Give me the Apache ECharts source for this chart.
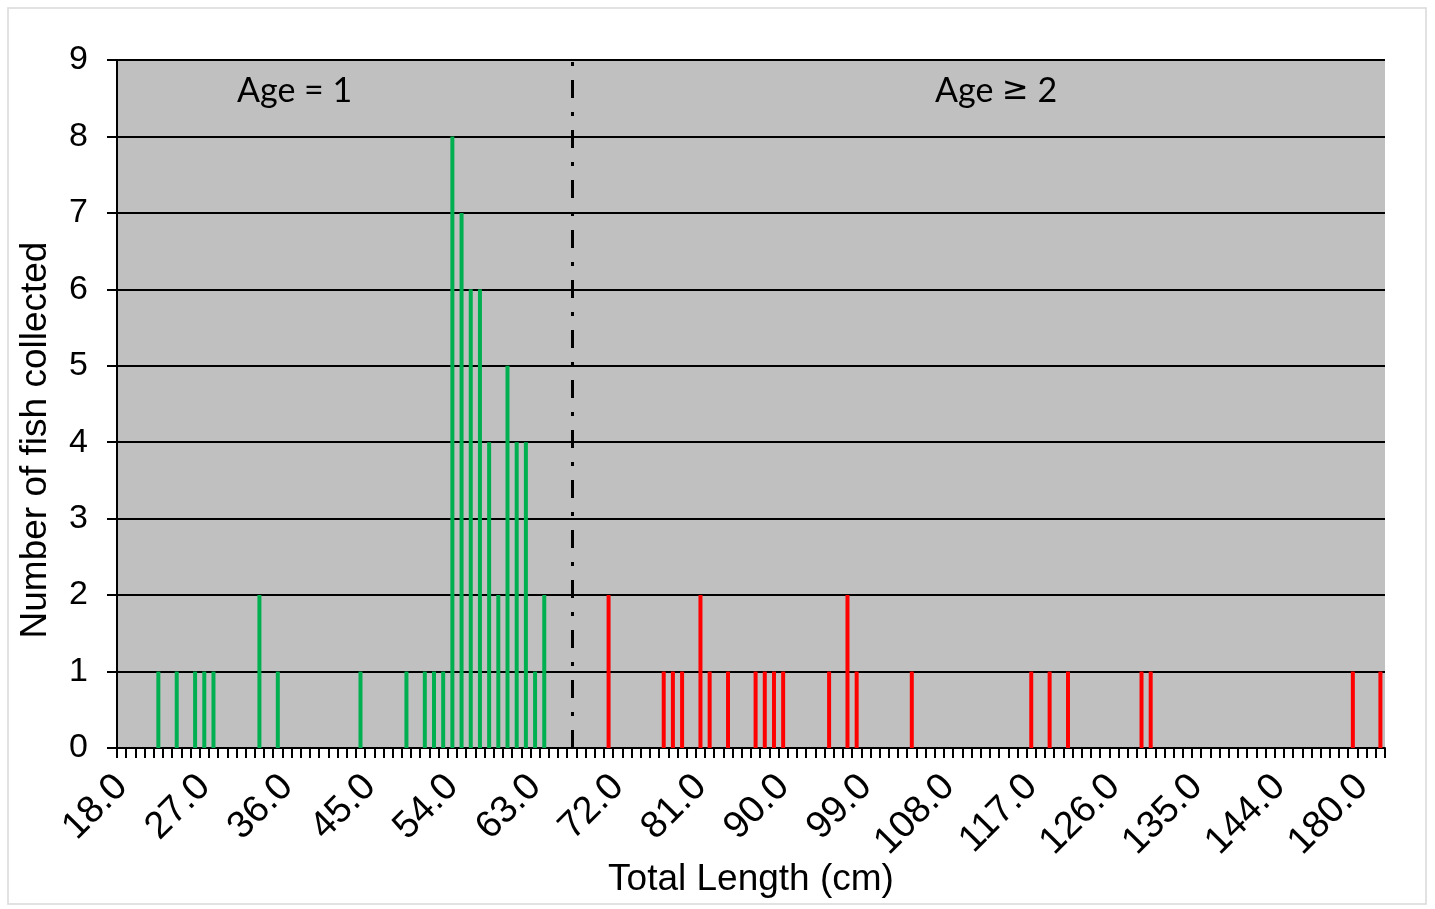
<!DOCTYPE html>
<html>
<head>
<meta charset="utf-8">
<script src="https://cdn.jsdelivr.net/npm/echarts@6/dist/echarts.min.js"></script>
<style>
  html, body { margin: 0; padding: 0; background: #ffffff; }
  #chart { width: 1435px; height: 909px; }
</style>
</head>
<body>
<div id="chart"></div>
<script>
// ---- Data ----
// Length bins (cm) shown on the category axis
const lengthBins = [];
for (let v = 18; v <= 152; v++) lengthBins.push(v);
lengthBins.push(180, 181, 182);

// Age = 1 fish: total length (cm) and number collected
const age1Lengths = [22, 24, 26, 27, 28, 33, 35, 44, 49, 51, 52, 53, 54, 55, 56, 57, 58, 59, 60, 61, 62, 63, 64];
const age1Counts  = [ 1,  1,  1,  1,  1,  2,  1,  1,  1,  1,  1,  1,  8,  7,  6,  6,  4,  2,  5,  4,  4,  1,  2];

// Age >= 2 fish: total length (cm) and number collected
const age2Lengths = [71, 77, 78, 79, 81, 82, 84, 87, 88, 89, 90, 95, 97, 98, 104, 117, 119, 121, 129, 130, 152, 182];
const age2Counts  = [ 2,  1,  1,  1,  2,  1,  1,  1,  1,  1,  1,  1,  2,  1,   1,   1,   1,   1,   1,   1,   1,   1];

// Age-class boundary (cm)
const ageBoundary = 67;

// Y axis
const yMin = 0, yMax = 9, yStep = 1;

// ---- Build series data aligned with the categories ----
function toSeries(lengths, counts) {
  const out = lengthBins.map(() => 0);
  lengths.forEach((L, i) => {
    const idx = lengthBins.indexOf(L);
    if (idx >= 0) out[idx] = counts[i];
  });
  return out;
}
const age1Data = toSeries(age1Lengths, age1Counts);
const age2Data = toSeries(age2Lengths, age2Counts);

const FONT = '"Liberation Sans", Arial, sans-serif';
const AGEFONT = 'Lato, "Liberation Sans", sans-serif';

const chart = echarts.init(document.getElementById('chart'), null, { renderer: 'canvas' });
chart.setOption({
  animation: false,
  backgroundColor: '#ffffff',
  grid: {
    left: 117, right: 50, top: 60, bottom: 161,
    show: true, backgroundColor: '#c0c0c0', borderWidth: 0
  },
  graphic: [
    {
      type: 'rect', silent: true, z: -10,
      shape: { x: 8, y: 8, width: 1418, height: 896 },
      style: { fill: 'none', stroke: '#d9d9d9', lineWidth: 1.5 }
    },
    {
      type: 'text', left: 237, top: 74, z: 100,
      style: { text: 'Age = 1', font: '34px ' + AGEFONT, fill: '#000' }
    },
    {
      type: 'text', left: 935, top: 74, z: 100,
      style: {
        text: '{a|Age }{b|\u2265}{a| 2}',
        fill: '#000',
        rich: {
          a: { fontFamily: AGEFONT, fontSize: 34, color: '#000' },
          b: { fontFamily: '"DejaVu Sans", sans-serif', fontSize: 32, color: '#000' }
        }
      }
    },
    {
      type: 'text', x: 36, y: 440, rotation: Math.PI / 2, z: 100,
      style: {
        text: 'Number of fish collected', x: 0, y: 0,
        align: 'center', verticalAlign: 'middle',
        font: '37px "Liberation Sans", Arial, sans-serif', fill: '#000'
      }
    }
  ],
  xAxis: {
    type: 'category',
    data: lengthBins,
    boundaryGap: true,
    name: 'Total Length (cm)',
    nameLocation: 'middle',
    nameGap: 113,
    nameMoveOverlap: false,
    nameTextStyle: { fontFamily: FONT, fontSize: 37, color: '#000' },
    axisLine: { show: true, lineStyle: { color: '#000', width: 2 } },
    axisTick: { show: true, interval: 0, length: 10, lineStyle: { color: '#000', width: 2 } },
    axisLabel: {
      interval: 8, rotate: 45, margin: 33,
      fontFamily: FONT, fontSize: 38, color: '#000',
      formatter: v => Number(v).toFixed(1)
    },
    splitLine: { show: false }
  },
  yAxis: {
    type: 'value',
    min: yMin, max: yMax, interval: yStep,
    axisLine: { show: true, lineStyle: { color: '#000', width: 2 } },
    axisTick: { show: true, length: 10, lineStyle: { color: '#000', width: 2 } },
    axisLabel: { fontFamily: FONT, fontSize: 34, color: '#000', margin: 29 },
    splitLine: { show: true, lineStyle: { color: '#000', width: 2 } }
  },
  series: [
    {
      name: 'Age = 1', type: 'bar', stack: 'n', barWidth: 4,
      data: age1Data,
      itemStyle: { color: '#00b050' },
      markLine: {
        silent: true, symbol: 'none', label: { show: false },
        lineStyle: { color: '#000', width: 3, type: [18, 14, 4, 14] },
        data: [{ xAxis: String(ageBoundary) }]
      }
    },
    {
      name: 'Age >= 2', type: 'bar', stack: 'n', barWidth: 4,
      data: age2Data,
      itemStyle: { color: '#ff0000' }
    }
  ]
});
</script>
</body>
</html>
